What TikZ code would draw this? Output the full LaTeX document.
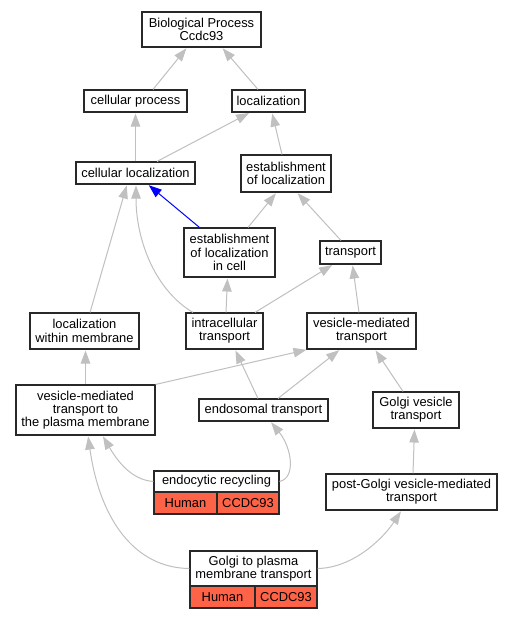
\documentclass[tikz,border=0pt]{standalone}
\usepackage{fontspec}
\setmainfont{Liberation Sans}
\usetikzlibrary{arrows.meta}
\definecolor{edgegray}{RGB}{192,192,192}
\definecolor{boxline}{RGB}{40,40,40}
\definecolor{hred}{RGB}{255,99,71}
\begin{document}
\begin{tikzpicture}[x=1pt,y=-1pt,
 box/.style={draw=boxline, line width=1.1pt, fill=white, inner sep=0pt, align=center, font=\fontsize{12.9}{13.3}\selectfont},
 redcell/.style={box, fill=hred},
 edge/.style={draw=edgegray, line width=1pt, -{Triangle[length=13pt,width=9.5pt]}, shorten >=1pt},
 blueedge/.style={draw=blue, line width=1pt, -{Triangle[length=13pt,width=9.5pt]}, shorten >=1pt}]
\useasboundingbox (0,0) rectangle (513,619);
\fill[white] (0,0) rectangle (513,619);

\node[box, minimum width=119pt, minimum height=35pt] (bp) at (201.5,29.5) {Biological Process\\Ccdc93};
\node[box, minimum width=103pt, minimum height=22pt] (cp) at (135.5,101) {cellular process};
\node[box, minimum width=73pt, minimum height=22pt] (loc) at (268.5,101) {localization};
\node[box, minimum width=119pt, minimum height=22pt] (cl) at (135.5,173) {cellular localization};
\node[box, minimum width=90pt, minimum height=37pt] (eol) at (286,173.5) {establishment\\of localization};
\node[box, minimum width=91pt, minimum height=49pt] (eolc) at (229.5,252.5) {establishment\\of localization\\in cell};
\node[box, minimum width=61pt, minimum height=23pt] (tr) at (350.5,252.5) {transport};
\node[box, minimum width=109pt, minimum height=36pt] (lwm) at (84.5,331) {localization\\within membrane};
\node[box, minimum width=77pt, minimum height=36pt] (it) at (224.5,331) {intracellular\\transport};
\node[box, minimum width=109pt, minimum height=36pt] (vmt) at (361.5,331) {vesicle-mediated\\transport};
\node[box, minimum width=139pt, minimum height=50pt] (vmtpm) at (85.5,410) {vesicle-mediated\\transport to\\the plasma membrane};
\node[box, minimum width=129pt, minimum height=22pt] (et) at (263.5,410) {endosomal transport};
\node[box, minimum width=86pt, minimum height=36pt] (gvt) at (416,410) {Golgi vesicle\\transport};
\node[box, minimum width=171pt, minimum height=36pt] (pg) at (411.5,492) {post-Golgi vesicle-mediated\\transport};

\node[box, minimum width=125pt, minimum height=21pt] (er) at (216.5,481.5) {endocytic recycling};
\node[redcell, minimum width=63pt, minimum height=22pt] (erh) at (185.5,503) {Human};
\node[redcell, minimum width=62pt, minimum height=22pt] (erc) at (248,503) {CCDC93};

\node[box, minimum width=127pt, minimum height=35pt] (gpm) at (253.5,568.5) {Golgi to plasma\\membrane transport};
\node[redcell, minimum width=65pt, minimum height=22pt] (gpmh) at (222.5,597) {Human};
\node[redcell, minimum width=62pt, minimum height=22pt] (gpmc) at (286,597) {CCDC93};

% edges
\draw[edge] ([xshift=17.5pt]cp.north) -- ([xshift=-14.5pt]bp.south);
\draw[edge] ([xshift=-10.5pt]loc.north) -- ([xshift=20.5pt]bp.south);
\draw[edge] (cl.north) -- (cp.south);
\draw[edge] ([xshift=21.5pt]cl.north) -- ([xshift=-18.5pt]loc.south);
\draw[edge] ([xshift=-4pt]eol.north) -- ([xshift=3.5pt]loc.south);
\draw[blueedge] ([xshift=-30pt]eolc.north) -- ([xshift=12.5pt]cl.south);
\draw[edge] ([xshift=18.5pt]eolc.north) -- ([xshift=-9.5pt]eol.south);
\draw[edge] ([xshift=-9.5pt]tr.north) -- ([xshift=11pt]eol.south);
\draw[edge] ([xshift=5.5pt]lwm.north) -- ([xshift=-8.5pt]cl.south);
\draw[edge] ([xshift=-31.5pt]it.north) .. controls (155,290) and (136,240) .. ([xshift=0.5pt]cl.south);
\draw[edge] ([xshift=1.5pt]it.north) -- ([xshift=-2pt]eolc.south);
\draw[edge] ([xshift=30.5pt]it.north) -- ([xshift=-17.5pt]tr.south);
\draw[edge] ([xshift=-2.5pt]vmt.north) -- ([xshift=2pt]tr.south);
\draw[edge] (vmtpm.north) -- ([xshift=1pt]lwm.south);
\draw[edge] (vmtpm.north east) -- ([xshift=1pt]vmt.south west);
\draw[edge] ([xshift=-5.5pt]et.north) -- ([xshift=10.5pt]it.south);
\draw[edge] ([xshift=14.5pt]et.north) -- ([xshift=-21.5pt]vmt.south);
\draw[edge] ([xshift=-13pt]gvt.north) -- ([xshift=13.5pt]vmt.south);
\draw[edge] ([xshift=1.5pt]pg.north) -- ([xshift=-1.5pt]gvt.south);
\draw[edge] (er.west) .. controls (132,480) and (118,462) .. ([xshift=17pt]vmtpm.south);
\draw[edge] (er.east) .. controls (296,478) and (292,448) .. ([xshift=7pt]et.south);
\draw[edge] (gpm.west) .. controls (135,568) and (100,520) .. ([xshift=2.5pt]vmtpm.south);
\draw[edge] (gpm.east) .. controls (352,568) and (382,540) .. ([xshift=-10pt]pg.south);
\end{tikzpicture}
\end{document}
